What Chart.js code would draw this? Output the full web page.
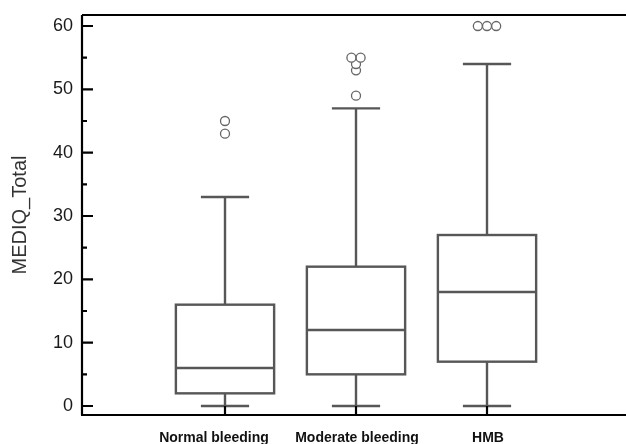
<!DOCTYPE html>
<html>
<head>
<meta charset="utf-8">
<script src="https://cdn.jsdelivr.net/npm/chart.js@4.4.0/dist/chart.umd.min.js"></script>
<style>
  html, body { margin: 0; padding: 0; background: #fff; }
  #wrap { width: 626px; height: 444px; }
</style>
</head>
<body>
<div id="wrap"><canvas id="boxChart" width="626" height="444"></canvas></div>
<script>
// Box plot summary per group
const categories = ["Normal bleeding", "Moderate bleeding", "HMB"];
const whiskerLow = [0, 0, 0];
const q1 = [2, 5, 7];
const medians = [6, 12, 18];
const q3 = [16, 22, 27];
const whiskerHigh = [33, 47, 54];
const outliers = [
    [43, 45],
    [49, 53, 54, 55, 55],
    [60, 60, 60],
];
const yTicks = [0, 5, 10, 15, 20, 25, 30, 35, 40, 45, 50, 55, 60];

const lineGray = "#575757";
const boxHalf = 0.375;   // in category units
const capHalf = 0.184;
const jitter = 0.07;     // sideways step for equal outliers
const labelShift = [-11, 1, 1]; // px nudge of the category labels
const fontFamily = "Liberation Sans, Arial, sans-serif";

// spread equal values side by side
const outlierPoints = [];
outliers.forEach((vals, i) => {
    const counts = {};
    vals.forEach((v) => { counts[v] = (counts[v] || 0) + 1; });
    Object.keys(counts).forEach((k) => {
        const n = counts[k];
        for (let j = 0; j < n; j++) {
            outlierPoints.push({ x: i + (j - (n - 1) / 2) * jitter, y: Number(k) });
        }
    });
});

const boxPlugin = {
    id: "boxes",
    beforeDatasetsDraw(chart) {
        const { ctx, scales: { x, y } } = chart;
        ctx.save();
        ctx.strokeStyle = lineGray;
        ctx.lineWidth = 2.4;
        categories.forEach((c, i) => {
            const cx = x.getPixelForValue(i);
            const l = x.getPixelForValue(i - boxHalf);
            const r = x.getPixelForValue(i + boxHalf);
            const cl = x.getPixelForValue(i - capHalf);
            const cr = x.getPixelForValue(i + capHalf);
            const yq1 = y.getPixelForValue(q1[i]);
            const yq3 = y.getPixelForValue(q3[i]);
            const ym = y.getPixelForValue(medians[i]);
            const ylo = y.getPixelForValue(whiskerLow[i]);
            const yhi = y.getPixelForValue(whiskerHigh[i]);
            ctx.strokeRect(l, yq3, r - l, yq1 - yq3);
            ctx.beginPath();
            ctx.moveTo(l, ym); ctx.lineTo(r, ym);
            ctx.moveTo(cx, yq3); ctx.lineTo(cx, yhi);
            ctx.moveTo(cl, yhi); ctx.lineTo(cr, yhi);
            ctx.moveTo(cx, yq1); ctx.lineTo(cx, ylo);
            ctx.moveTo(cl, ylo); ctx.lineTo(cr, ylo);
            ctx.stroke();
        });
        ctx.restore();
    },
    afterDraw(chart) {
        const { ctx, chartArea: a, scales: { x, y } } = chart;
        ctx.save();
        ctx.strokeStyle = "#000";
        ctx.lineWidth = 2.2;
        ctx.beginPath();
        // frame: top, left, bottom
        ctx.moveTo(a.left, a.top); ctx.lineTo(chart.width, a.top);
        ctx.moveTo(a.left, a.top); ctx.lineTo(a.left, a.bottom);
        ctx.moveTo(a.left - 1, a.bottom); ctx.lineTo(chart.width, a.bottom);
        // inward ticks
        yTicks.forEach((v) => {
            const py = y.getPixelForValue(v);
            ctx.moveTo(a.left, py);
            ctx.lineTo(a.left + (v % 10 === 0 ? 11 : 5), py);
        });
        categories.forEach((c, i) => {
            const px = x.getPixelForValue(i);
            ctx.moveTo(px, a.bottom);
            ctx.lineTo(px, a.bottom - 9);
        });
        ctx.stroke();
        // category labels
        ctx.fillStyle = "#111";
        ctx.font = "bold 14px " + fontFamily;
        ctx.textAlign = "center";
        ctx.textBaseline = "alphabetic";
        categories.forEach((c, i) => {
            ctx.fillText(c, x.getPixelForValue(i) + labelShift[i], a.bottom + 27);
        });
        ctx.restore();
    },
};

new Chart(document.getElementById("boxChart"), {
    type: "scatter",
    data: {
        datasets: [
            {
                label: "Outliers",
                data: outlierPoints,
                pointRadius: 4.5,
                pointBorderWidth: 1.3,
                pointBorderColor: "#666",
                pointBackgroundColor: "#fff",
            },
        ],
    },
    options: {
        responsive: false,
        animation: false,
        layout: { autoPadding: false, padding: { top: 15, right: 0, left: 0, bottom: 0 } },
        plugins: {
            legend: { display: false },
            tooltip: { enabled: false },
        },
        scales: {
            x: {
                type: "linear",
                min: -1.0916,
                max: 3.061,
                grid: { display: false, drawTicks: false },
                border: { display: false },
                afterBuildTicks: (s) => { s.ticks = categories.map((c, i) => ({ value: i })); },
                afterFit: (s) => { s.height = 29; },
                ticks: { display: false },
            },
            y: {
                min: -1.42,
                max: 61.74,
                grid: { display: false, drawTicks: false },
                border: { display: false },
                afterBuildTicks: (s) => { s.ticks = yTicks.map((v) => ({ value: v })); },
                afterFit: (s) => { s.width = 82; s.paddingTop = 0; s.paddingBottom = 0; },
                ticks: {
                    padding: 9,
                    color: "#1a1a1a",
                    font: { family: fontFamily, size: 18 },
                    callback: (v) => (v % 10 === 0 ? v : ""),
                },
                title: {
                    display: true,
                    text: "MEDIQ_Total",
                    color: "#333",
                    padding: { top: 8, bottom: 0 },
                    font: { family: fontFamily, size: 20 },
                },
            },
        },
    },
    plugins: [boxPlugin],
});
</script>
</body>
</html>
